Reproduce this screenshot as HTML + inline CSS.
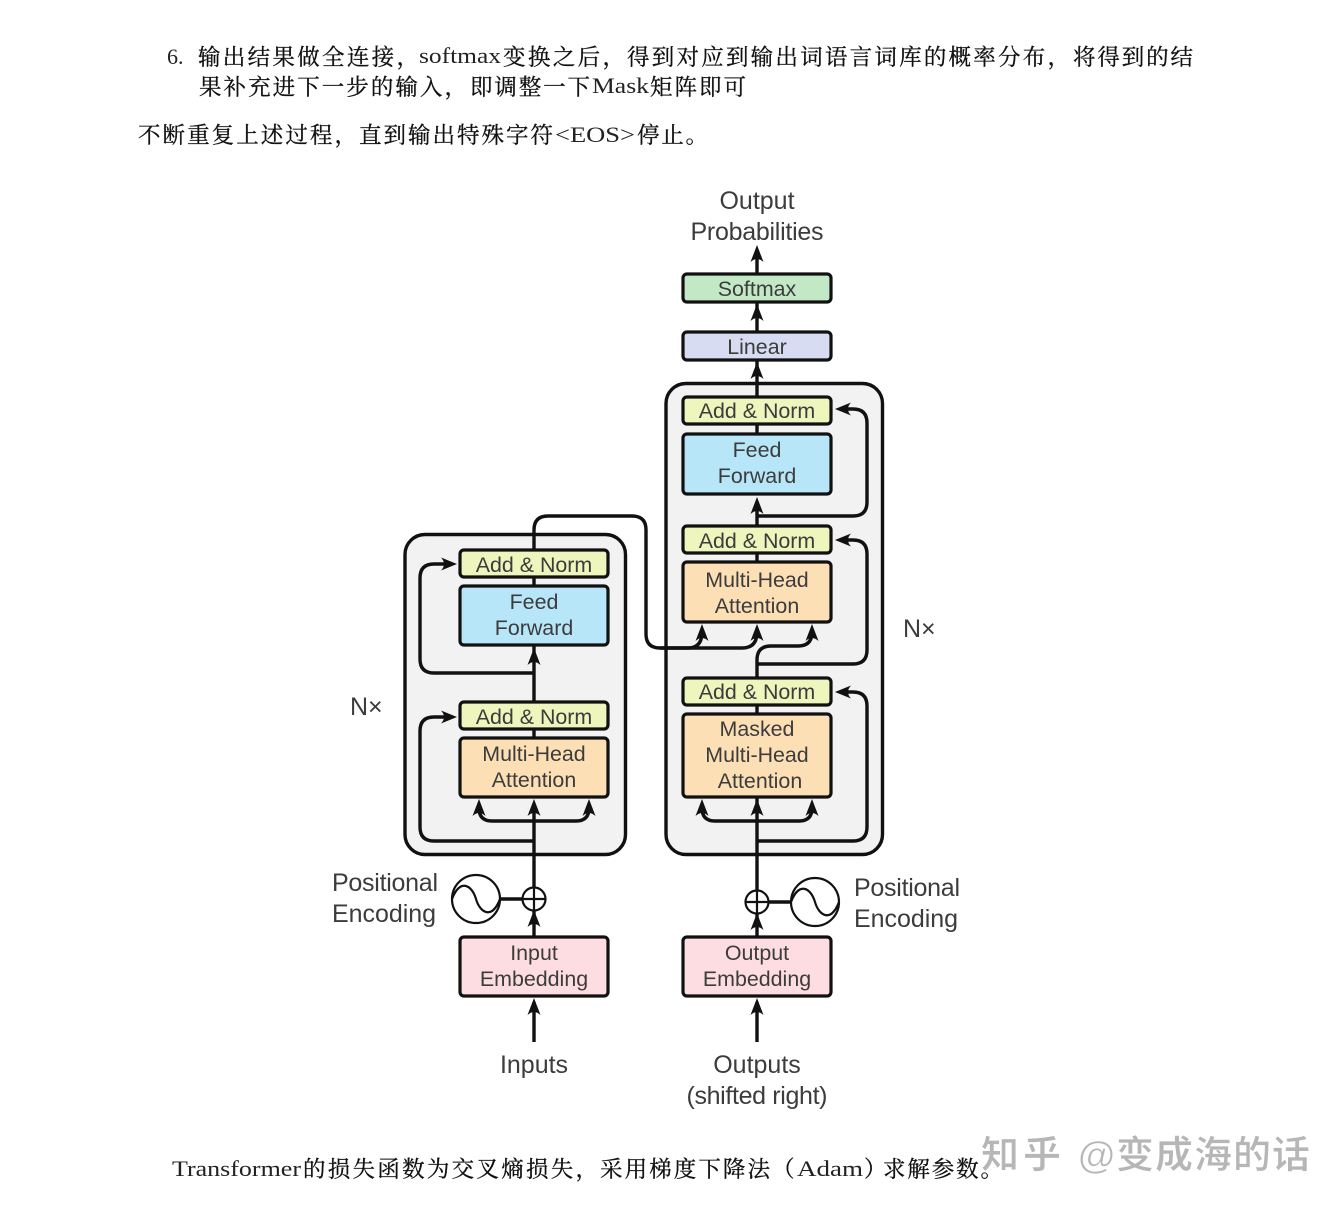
<!DOCTYPE html>
<html><head><meta charset="utf-8"><style>
html,body{margin:0;padding:0;background:#fff}
svg{display:block;filter:blur(.3px)}
.c{font-family:"Liberation Serif","Noto Serif CJK SC",serif;font-size:22.5px;fill:#111;stroke:#111;stroke-width:.3}
.l{font-family:"Liberation Serif",serif;font-size:22px;fill:#222}
.d{font-family:"Liberation Sans",sans-serif;font-size:21.4px;fill:#3c3c3c;text-anchor:middle}
.s{font-family:"Liberation Sans",sans-serif;font-size:25px;fill:#3c3c3c}
.b{stroke:#111;stroke-width:3.2}
.w{fill:none;stroke:#111;stroke-width:3.4;stroke-linejoin:round}
.a{fill:#111}
</style></head><body>
<svg width="1344" height="1208" viewBox="0 0 1344 1208" xmlns="http://www.w3.org/2000/svg">
<defs>
<path id="up" d="M0,-12 L6.5,5 Q0,-1 -6.5,5 Z"/>
</defs>
<text class="l" x="167" y="64">6.</text>
<text class="c" x="198" y="65" textLength="221">输出结果做全连接，</text>
<text class="l" x="419" y="63" textLength="82" lengthAdjust="spacingAndGlyphs">softmax</text>
<text class="c" x="503" y="65" textLength="122">变换之后，</text>
<text class="c" x="627" y="65" textLength="443">得到对应到输出词语言词库的概率分布，</text>
<text class="c" x="1073" y="65" textLength="120">将得到的结</text>
<text class="c" x="199" y="95" textLength="268">果补充进下一步的输入，</text>
<text class="c" x="470" y="95" textLength="120">即调整一下</text>
<text class="l" x="592" y="93" textLength="57" lengthAdjust="spacingAndGlyphs">Mask</text>
<text class="c" x="650" y="95" textLength="96">矩阵即可</text>
<text class="c" x="138" y="143" textLength="219">不断重复上述过程，</text>
<text class="c" x="359" y="143" textLength="194">直到输出特殊字符</text>
<text class="l" x="555" y="142" textLength="80" lengthAdjust="spacingAndGlyphs">&lt;EOS&gt;</text>
<text class="c" x="637" y="143" textLength="71">停止。</text>

<rect x="405" y="534.5" width="220.5" height="320" rx="20" fill="#f2f2f2" stroke="#111" stroke-width="3.4"/>
<rect x="666" y="383.5" width="216.5" height="471" rx="20" fill="#f2f2f2" stroke="#111" stroke-width="3.4"/>

<!-- left connectors -->
<path class="w" d="M534,937V910M534,888V810M534,797V550M534,550V530Q534,516 548,516H632Q646,516 646,530V634Q646,648 660,648H688Q702,648 702,632"/>
<path class="w" d="M534,673H434Q420,673 420,659V578Q420,564 434,564H448"/>
<path class="w" d="M534,841H434Q420,841 420,827V731Q420,717 434,717H448"/>
<path class="w" d="M534,821H492Q479,821 479,808M534,821H576Q589,821 589,808"/>
<path class="w" d="M534,1042V1002"/>
<!-- right connectors -->
<path class="w" d="M757,1042V1002M757,937V914M757,891V797M757,714V705M757,678V660Q757,646 771,646H798Q812,646 812,632M757,562V553M757,526V506M757,434V424M757,397V250"/>
<path class="w" d="M660,648H742Q757,648 757,632"/>
<path class="w" d="M757,516H853Q867,516 867,502V423Q867,409 853,409H842"/>
<path class="w" d="M757,664H853Q867,664 867,650V554Q867,540 853,540H842"/>
<path class="w" d="M757,841H853Q867,841 867,827V706Q867,692 853,692H842"/>
<path class="w" d="M757,821H715Q702,821 702,808M757,821H799Q812,821 812,808"/>
<path class="w" d="M500,899H523M768,902H791"/>

<!-- boxes -->
<g class="b">
<rect x="683" y="274" width="148" height="28" rx="4" fill="#c3e8c6"/>
<rect x="683" y="332" width="148" height="28" rx="4" fill="#d7dcf2"/>
<rect x="683" y="397" width="148" height="27" rx="4" fill="#eff6bd"/>
<rect x="683" y="434" width="148" height="60" rx="4" fill="#b8e6f9"/>
<rect x="683" y="526" width="148" height="27" rx="4" fill="#eff6bd"/>
<rect x="683" y="562" width="148" height="60" rx="4" fill="#fddfb5"/>
<rect x="683" y="678" width="148" height="27" rx="4" fill="#eff6bd"/>
<rect x="683" y="714" width="148" height="83" rx="4" fill="#fddfb5"/>
<rect x="683" y="937" width="148" height="59" rx="4" fill="#fddde1"/>
<rect x="460" y="550" width="148" height="27" rx="4" fill="#eff6bd"/>
<rect x="460" y="586" width="148" height="59" rx="4" fill="#b8e6f9"/>
<rect x="460" y="702" width="148" height="27" rx="4" fill="#eff6bd"/>
<rect x="460" y="738" width="148" height="59" rx="4" fill="#fddfb5"/>
<rect x="460" y="937" width="148" height="59" rx="4" fill="#fddde1"/>
</g>

<!-- arrowheads -->
<g class="a">
<use href="#up" x="534" y="660"/><use href="#up" x="534" y="811"/><use href="#up" x="479" y="811"/><use href="#up" x="589" y="811"/>
<use href="#up" x="534" y="922"/><use href="#up" x="534" y="1010"/>
<use href="#up" x="757" y="1010"/><use href="#up" x="757" y="925"/><use href="#up" x="757" y="811"/><use href="#up" x="702" y="811"/><use href="#up" x="812" y="811"/>
<use href="#up" x="702" y="636"/><use href="#up" x="757" y="636"/><use href="#up" x="812" y="636"/>
<use href="#up" x="757" y="509"/><use href="#up" x="757" y="374"/><use href="#up" x="757" y="316"/><use href="#up" x="757" y="257"/>
<path d="M457,564L441,557.5Q447,564 441,570.5Z"/><path d="M457,717L441,710.5Q447,717 441,723.5Z"/>
<path d="M835,409L851,402.5Q845,409 851,415.5Z"/><path d="M835,540L851,533.5Q845,540 851,546.5Z"/><path d="M835,692L851,685.5Q845,692 851,698.5Z"/>
</g>

<!-- plus and sine -->
<g fill="#fff" stroke="#111" stroke-width="2.2">
<circle cx="534" cy="899" r="11.5"/><path d="M523,899H545M534,888V910"/>
<circle cx="757" cy="902" r="11.5"/><path d="M746,902H768M757,891V913"/>
<circle cx="476" cy="899" r="24"/><path fill="none" d="M452,899C460,878 472,885 476,899C480,913 492,920 500,899"/>
<circle cx="815" cy="902" r="24"/><path fill="none" d="M791,902C799,881 811,888 815,902C819,916 831,923 839,902"/>
</g>

<!-- diagram labels -->
<text class="s" x="757" y="209" text-anchor="middle">Output</text>
<text class="s" x="757" y="240" text-anchor="middle" textLength="133">Probabilities</text>
<text class="d" x="757" y="296">Softmax</text>
<text class="d" x="757" y="354">Linear</text>
<text class="d" x="757" y="418">Add &amp; Norm</text>
<text class="d" x="757" y="457">Feed</text>
<text class="d" x="757" y="483">Forward</text>
<text class="d" x="757" y="548">Add &amp; Norm</text>
<text class="d" x="757" y="587">Multi-Head</text>
<text class="d" x="757" y="613">Attention</text>
<text class="d" x="757" y="699">Add &amp; Norm</text>
<text class="d" x="757" y="736">Masked</text>
<text class="d" x="757" y="762">Multi-Head</text>
<text class="d" x="760" y="788">Attention</text>
<text class="d" x="757" y="960">Output</text>
<text class="d" x="757" y="986">Embedding</text>
<text class="d" x="534" y="572">Add &amp; Norm</text>
<text class="d" x="534" y="609">Feed</text>
<text class="d" x="534" y="635">Forward</text>
<text class="d" x="534" y="724">Add &amp; Norm</text>
<text class="d" x="534" y="761">Multi-Head</text>
<text class="d" x="534" y="787">Attention</text>
<text class="d" x="534" y="960">Input</text>
<text class="d" x="534" y="986">Embedding</text>
<text class="s" x="350" y="715">N×</text>
<text class="s" x="903" y="637">N×</text>
<text class="s" x="332" y="891" textLength="106">Positional</text>
<text class="s" x="332" y="922" textLength="104">Encoding</text>
<text class="s" x="854" y="896" textLength="106">Positional</text>
<text class="s" x="854" y="927" textLength="104">Encoding</text>
<text class="s" x="534" y="1073" text-anchor="middle">Inputs</text>
<text class="s" x="757" y="1073" text-anchor="middle">Outputs</text>
<text class="s" x="757" y="1104" text-anchor="middle" textLength="141">(shifted right)</text>

<text class="l" x="172" y="1176" textLength="129" lengthAdjust="spacingAndGlyphs">Transformer</text>
<text class="c" x="303" y="1177" textLength="295">的损失函数为交叉熵损失，</text>
<text class="c" x="600" y="1177" textLength="170">采用梯度下降法</text>
<text class="c" x="772" y="1177">（</text>
<text class="l" x="797" y="1176" textLength="66" lengthAdjust="spacingAndGlyphs">Adam</text>
<text class="c" x="864" y="1177">）</text>
<text class="c" x="883" y="1177" textLength="120">求解参数。</text>
<g font-family="'Liberation Sans','Noto Sans CJK SC',sans-serif" font-size="38" font-weight="bold" fill="#9a9a9a" fill-opacity=".72" stroke="#fff" stroke-width=".7">
<text x="981" y="1168" textLength="80">知乎</text>
<text x="1078" y="1168" textLength="232">@变成海的话</text>
</g>
</svg>
</body></html>
